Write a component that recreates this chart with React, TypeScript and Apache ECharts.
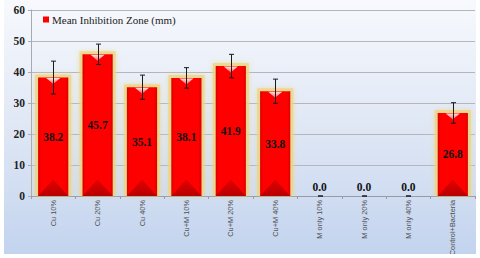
import React, { useEffect, useRef } from "react";
import * as echarts from "echarts";

const categories = [
  "Cu 10%",
  "Cu 20%",
  "Cu 40%",
  "Cu+M 10%",
  "Cu+M 20%",
  "Cu+M 40%",
  "M only 10%",
  "M only 20%",
  "M only 40%",
  "Control+Bacteria",
];
const meanValues = [38.2, 45.7, 35.1, 38.1, 41.9, 33.8, 0.0, 0.0, 0.0, 26.8];
const errorValues = [5.3, 3.3, 3.9, 3.3, 3.8, 3.9, 0, 0, 0, 3.3];
const seriesName = "Mean Inhibition Zone (mm)";
const yTicks = { min: 0, max: 60, interval: 10 };

const BAR_RATIO = 0.68;
const serif = "Liberation Serif, Times New Roman, serif";
const sans = "Liberation Sans, Arial, sans-serif";

export default function App() {
  const ref = useRef<HTMLDivElement>(null);

  useEffect(() => {
    if (!ref.current) return;
    const chart = echarts.init(ref.current, undefined, { renderer: "svg" });

    const barData = meanValues.map((v) =>
      v > 0
        ? { value: v }
        : {
            value: v,
            label: { position: "top", distance: 3 },
          }
    );

    const legendText = { fontFamily: serif, fontSize: 11, color: "#222" };

    const option: any = {
      animation: false,
      backgroundColor: {
        type: "linear",
        x: 0,
        y: 0,
        x2: 0,
        y2: 1,
        colorStops: [
          { offset: 0, color: "#f7f9fd" },
          { offset: 0.5, color: "#dfe7f5" },
          { offset: 1, color: "#c2d3ee" },
        ],
      },
      graphic: [
        { type: "rect", z: 100, shape: { x: 0, y: 0, width: 4, height: 258 }, style: { fill: "#ffffff" }, silent: true },
        { type: "rect", z: 100, shape: { x: 476, y: 0, width: 4, height: 258 }, style: { fill: "#ffffff" }, silent: true },
        { type: "rect", z: 100, shape: { x: 0, y: 254, width: 480, height: 4 }, style: { fill: "#ffffff" }, silent: true },
      ],
      legend: {
        data: [{ name: seriesName, icon: "rect", textStyle: legendText }],
        left: 38,
        top: 9,
        itemWidth: 6,
        itemHeight: 6,
        itemGap: 4,
        textStyle: { ...legendText, padding: [0, 0, 0, -2] },
      },
      grid: { left: 31, right: 5, top: 10, bottom: 62, containLabel: false, outerBoundsMode: "none" },
      xAxis: {
        type: "category",
        data: categories,
        axisLine: { show: true, lineStyle: { color: "#9a9ca4", width: 1 } },
        axisTick: { show: true, length: 3, lineStyle: { color: "#9a9ca4" } },
        axisLabel: {
          rotate: 90,
          interval: 0,
          fontSize: 7.4,
          color: "#505050",
          fontFamily: sans,
          margin: 4,
        },
      },
      yAxis: {
        type: "value",
        min: yTicks.min,
        max: yTicks.max,
        interval: yTicks.interval,
        axisLine: { show: true, lineStyle: { color: "#a8aab2", width: 1 } },
        axisTick: { show: true, length: 3, lineStyle: { color: "#a8aab2" } },
        axisLabel: {
          fontFamily: serif,
          fontWeight: "bold",
          fontSize: 11.5,
          color: "#222",
          margin: 6,
        },
        splitLine: { show: true, lineStyle: { color: "#b4b6bc", width: 1 } },
      },
      series: [
        {
          type: "custom",
          name: "glow",
          data: meanValues.map((v, i) => [i, v]),
          encode: { x: 0, y: 1 },
          z: 1,
          silent: true,
          renderItem: (params: any, api: any) => {
            const i = api.value(0);
            const v = api.value(1);
            if (!(v > 0)) return { type: "group", children: [] };
            const top = api.coord([i, v]);
            const bot = api.coord([i, 0]);
            const w = api.size([1, 0])[0] * BAR_RATIO;
            const pad = 3;
            return {
              type: "rect",
              shape: { x: top[0] - w / 2 - pad, y: top[1] - pad, width: w + pad * 2, height: bot[1] - top[1] + pad },
              style: {
                fill: "rgba(238, 212, 130, 0.75)",
                shadowBlur: 5,
                shadowColor: "rgba(238, 212, 130, 0.9)",
              },
            };
          },
        },
        {
          name: seriesName,
          type: "bar",
          data: barData,
          barWidth: BAR_RATIO * 100 + "%",
          itemStyle: {
            color: {
              type: "linear",
              x: 0,
              y: 0,
              x2: 1,
              y2: 0,
              colorStops: [
                { offset: 0, color: "#d80000" },
                { offset: 0.1, color: "#ff0000" },
                { offset: 0.9, color: "#ff0000" },
                { offset: 1, color: "#d80000" },
              ],
            },
          },
          label: {
            show: true,
            position: "inside",
            formatter: (p: any) => Number(p.value).toFixed(1),
            fontFamily: serif,
            fontWeight: "bold",
            fontSize: 11.5,
            color: "#111",
          },
          z: 2,
        },
        {
          type: "custom",
          name: "bevel",
          data: meanValues.map((v, i) => [i, v]),
          encode: { x: 0, y: 1 },
          z: 3,
          silent: true,
          renderItem: (params: any, api: any) => {
            const i = api.value(0);
            const v = api.value(1);
            if (!(v > 0)) return { type: "group", children: [] };
            const top = api.coord([i, v]);
            const bot = api.coord([i, 0]);
            const w = api.size([1, 0])[0] * BAR_RATIO;
            const x = top[0];
            const l = x - w / 2;
            const r = x + w / 2;
            const h = w * 0.55;
            return {
              type: "group",
              children: [
                {
                  type: "polygon",
                  shape: { points: [[l, bot[1]], [r, bot[1]], [x, bot[1] - h]] },
                  style: {
                    fill: {
                      type: "linear",
                      x: 0,
                      y: 0,
                      x2: 0,
                      y2: 1,
                      colorStops: [
                        { offset: 0, color: "#e40000" },
                        { offset: 1, color: "#b80000" },
                      ],
                    },
                  },
                },
                {
                  type: "polygon",
                  shape: {
                    points: [
                      [x - 7, top[1] + 0.5],
                      [x + 7, top[1] + 0.5],
                      [x, top[1] + 6.5],
                    ],
                  },
                  style: {
                    fill: {
                      type: "linear",
                      x: 0,
                      y: 0,
                      x2: 0,
                      y2: 1,
                      colorStops: [
                        { offset: 0, color: "#ffe4e4" },
                        { offset: 1, color: "#ff5a5a" },
                      ],
                    },
                  },
                },
              ],
            };
          },
        },
        {
          type: "custom",
          name: "error",
          data: meanValues.map((v, i) => [i, v, errorValues[i]]),
          encode: { x: 0, y: 1 },
          z: 4,
          silent: true,
          clip: false,
          renderItem: (params: any, api: any) => {
            const i = api.value(0);
            const v = api.value(1);
            const e = api.value(2);
            const hi = api.coord([i, v + e]);
            const lo = api.coord([i, v - e]);
            const x = Math.round(hi[0]) + 0.5;
            const cap = 2.5;
            const st = { stroke: "#1a1a1a", lineWidth: 1 };
            return {
              type: "group",
              children: [
                { type: "line", shape: { x1: x, y1: hi[1], x2: x, y2: lo[1] }, style: st },
                { type: "line", shape: { x1: x - cap, y1: hi[1], x2: x + cap, y2: hi[1] }, style: st },
                { type: "line", shape: { x1: x - cap, y1: lo[1], x2: x + cap, y2: lo[1] }, style: st },
              ],
            };
          },
        },
      ],
    };

    chart.setOption(option);
    return () => chart.dispose();
  }, []);

  return <div ref={ref} style={{ width: 480, height: 258, position: "absolute", left: 0, top: 0 }} />;
}
